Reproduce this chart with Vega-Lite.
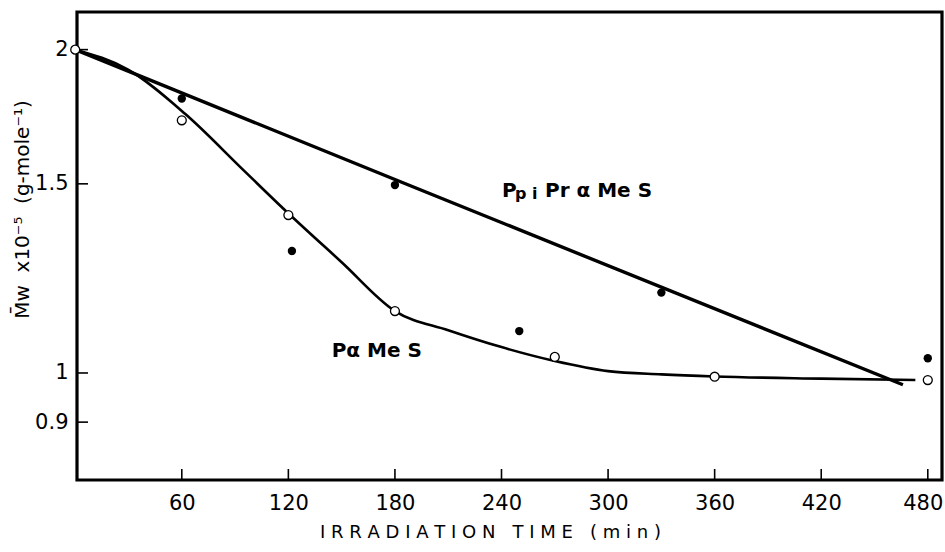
{
  "$schema": "https://vega.github.io/schema/vega-lite/v6.json",
  "width": 865,
  "height": 468,
  "autosize": {"type": "none"},
  "padding": {"left": 77, "top": 12, "right": 3, "bottom": 72},
  "background": "white",
  "config": {
    "view": {"stroke": "black", "strokeWidth": 3.2},
    "font": "DejaVu Sans",
    "axis": {
      "domain": false,
      "grid": false,
      "ticks": false,
      "labelColor": "black",
      "labelFont": "DejaVu Sans",
      "labelFontSize": 21,
      "titleColor": "black",
      "titleFont": "DejaVu Sans",
      "titleFontWeight": "normal",
      "titleFontSize": 18
    }
  },
  "datasets": {
    "open": [
      {"t": 0, "v": 2.0},
      {"t": 60, "v": 1.719},
      {"t": 120, "v": 1.403},
      {"t": 180, "v": 1.142},
      {"t": 270, "v": 1.035},
      {"t": 360, "v": 0.992},
      {"t": 480, "v": 0.985}
    ],
    "filled": [
      {"t": 60, "v": 1.801},
      {"t": 122, "v": 1.299},
      {"t": 180, "v": 1.496},
      {"t": 250, "v": 1.094},
      {"t": 330, "v": 1.188},
      {"t": 480, "v": 1.032}
    ],
    "straight": [
      {"t": 0, "v": 2.0},
      {"t": 180, "v": 1.514},
      {"t": 466, "v": 0.975}
    ],
    "curve": [
      {"t": 0, "v": 2.0},
      {"t": 30, "v": 1.915},
      {"t": 62, "v": 1.742},
      {"t": 95, "v": 1.543},
      {"t": 121, "v": 1.403},
      {"t": 150, "v": 1.268},
      {"t": 180, "v": 1.142},
      {"t": 210, "v": 1.096},
      {"t": 240, "v": 1.057},
      {"t": 270, "v": 1.026},
      {"t": 300, "v": 1.004},
      {"t": 330, "v": 0.997},
      {"t": 360, "v": 0.9925},
      {"t": 420, "v": 0.988},
      {"t": 473, "v": 0.985}
    ],
    "xticks": [
      {"t": 60, "v": 0.795, "v2": 0.814},
      {"t": 120, "v": 0.795, "v2": 0.814},
      {"t": 180, "v": 0.795, "v2": 0.814},
      {"t": 240, "v": 0.795, "v2": 0.814},
      {"t": 300, "v": 0.795, "v2": 0.814},
      {"t": 360, "v": 0.795, "v2": 0.814},
      {"t": 420, "v": 0.795, "v2": 0.814},
      {"t": 480, "v": 0.795, "v2": 0.814}
    ],
    "yticks": [
      {"t": 1, "t2": 7.2, "v": 0.9},
      {"t": 1, "t2": 7.2, "v": 1},
      {"t": 1, "t2": 7.2, "v": 1.5},
      {"t": 1, "t2": 7.2, "v": 2}
    ],
    "labels": [
      {"t": 240.3, "v": 1.458, "label": "P"},
      {"t": 264.5, "v": 1.458, "label": "Pr α Me S"},
      {"t": 144.4, "v": 1.0355, "label": "Pα Me S"}
    ],
    "sub": [
      {"t": 247.6, "v": 1.451, "label": "p i"}
    ]
  },
  "encoding": {
    "x": {
      "field": "t",
      "type": "quantitative",
      "scale": {"domain": [1, 488], "nice": false, "zero": false},
      "axis": {
        "values": [60, 120, 180, 240, 300, 360, 420, 480],
        "labelPadding": 12,
        "labelFlush": 20,
        "labelFlushOffset": 15,
        "title": "I\u00a0R\u00a0R\u00a0A\u00a0D\u00a0I\u00a0A\u00a0T\u00a0I\u00a0O\u00a0N\u00a0\u00a0\u00a0T\u00a0I\u00a0M\u00a0E\u00a0\u00a0\u00a0(\u00a0m\u00a0i\u00a0n\u00a0)",
        "titleX": 413,
        "titleY": 52,
        "titleAlign": "center",
        "titleBaseline": "middle"
      }
    },
    "y": {
      "field": "v",
      "type": "quantitative",
      "scale": {"type": "log", "domain": [0.795, 2.168], "nice": false, "zero": false},
      "axis": {
        "values": [0.9, 1, 1.5, 2],
        "format": "~g",
        "labelPadding": 9,
        "title": "M̄w\u00a0\u00a0x10⁻⁵\u00a0\u00a0(g-mole⁻¹)",
        "titleFontSize": 20,
        "titleX": -55,
        "titleY": 197,
        "titleAngle": -90,
        "titleAlign": "center",
        "titleBaseline": "middle"
      }
    }
  },
  "layer": [
    {
      "data": {"name": "xticks"},
      "mark": {"type": "rule", "color": "black", "strokeWidth": 1.6},
      "encoding": {"y2": {"field": "v2"}}
    },
    {
      "data": {"name": "yticks"},
      "mark": {"type": "rule", "color": "black", "strokeWidth": 1.6},
      "encoding": {"x2": {"field": "t2"}}
    },
    {
      "data": {"name": "straight"},
      "mark": {"type": "line", "color": "black", "strokeWidth": 3.4}
    },
    {
      "data": {"name": "curve"},
      "mark": {"type": "line", "color": "black", "strokeWidth": 2.6, "interpolate": "monotone"}
    },
    {
      "data": {"name": "filled"},
      "mark": {"type": "point", "shape": "circle", "filled": true, "color": "black", "size": 70, "opacity": 1}
    },
    {
      "data": {"name": "open"},
      "mark": {"type": "point", "shape": "circle", "filled": true, "fill": "white", "stroke": "black", "strokeWidth": 1.3, "size": 80, "opacity": 1}
    },
    {
      "data": {"name": "labels"},
      "mark": {"type": "text", "align": "left", "baseline": "alphabetic", "font": "DejaVu Sans", "fontSize": 20, "fontWeight": "bold", "color": "black"},
      "encoding": {"text": {"field": "label"}}
    },
    {
      "data": {"name": "sub"},
      "mark": {"type": "text", "align": "left", "baseline": "alphabetic", "font": "DejaVu Sans", "fontSize": 16, "fontWeight": "bold", "color": "black"},
      "encoding": {"text": {"field": "label"}}
    }
  ]
}
